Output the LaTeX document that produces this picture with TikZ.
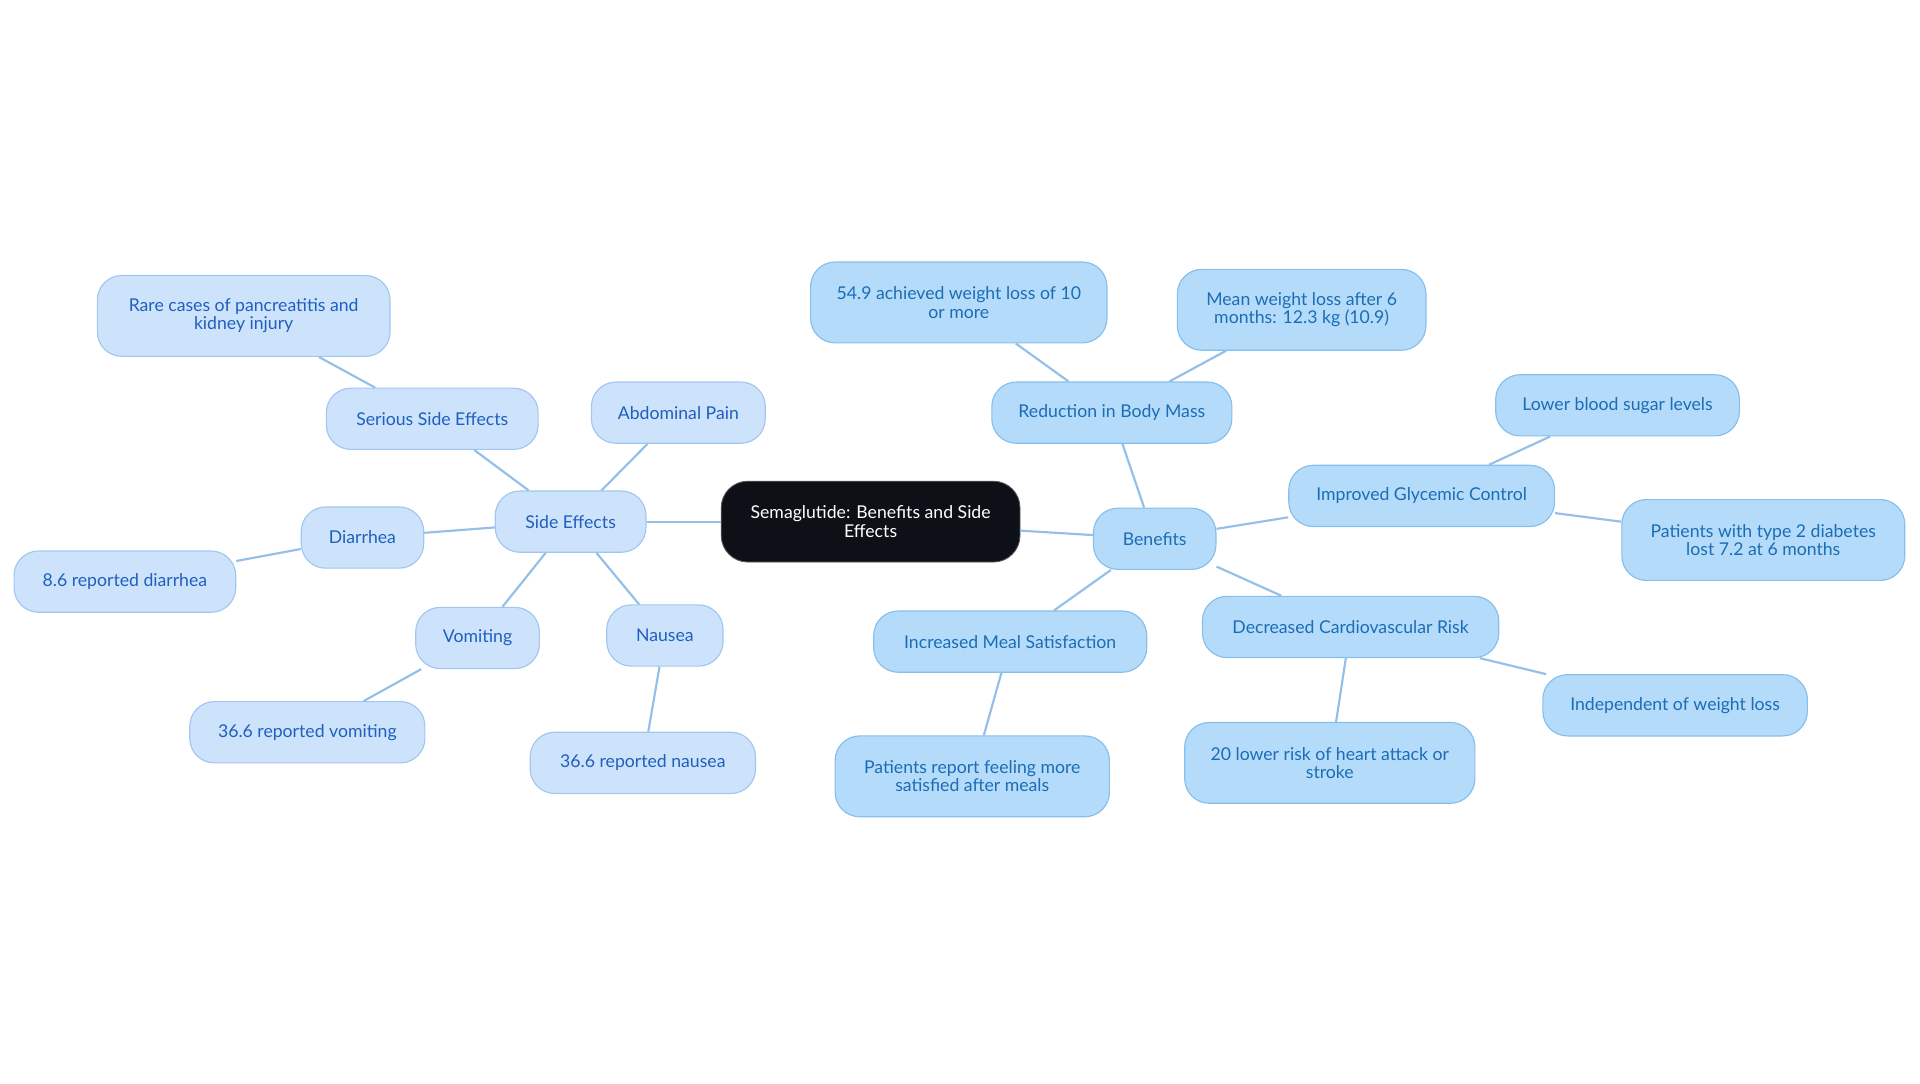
\documentclass[tikz,border=0pt]{standalone}
\usepackage{fontspec}
\setmainfont{Lato}
\definecolor{rootfill}{HTML}{0D1117}
\definecolor{sidefill}{HTML}{CDE3FB}
\definecolor{sidedraw}{HTML}{A3C6EF}
\definecolor{sidetext}{HTML}{1F5FBF}
\definecolor{benefill}{HTML}{B4DBFA}
\definecolor{benedraw}{HTML}{86BFEC}
\definecolor{benetext}{HTML}{1B6DB5}
\definecolor{linkcol}{HTML}{93BFE8}
\tikzset{
    % Le noeud central : le sujet de la carte
    root/.style={
        fill=rootfill,
        draw=gray!70!black,
        line width=0.6pt,
        text=white,
        rounded corners=0.65cm,
        align=center,
        minimum height=1.98cm,
        font=\fontsize{12.3}{12.8}\selectfont
    },
    % Les noeuds de la branche "effets secondaires"
    sidebox/.style={
        fill=sidefill,
        draw=sidedraw,
        line width=0.8pt,
        text=sidetext,
        rounded corners=0.6cm,
        align=center,
        minimum height=1.5cm,
        font=\fontsize{12.3}{12.8}\selectfont
    },
    % Les noeuds de la branche "benefices"
    benebox/.style={
        sidebox,
        fill=benefill,
        draw=benedraw,
        text=benetext
    },
    tall/.style={minimum height=1.98cm},
    % Les liens entre les noeuds
    link/.style={
        draw=linkcol,
        line width=1.5pt
    }
}

\begin{document}
\begin{tikzpicture}[x=0.03cm,y=-0.03cm]

    % Le cadre de la page (marges comprises)
    \useasboundingbox (0,0) rectangle (1568,884.5);

    % --- 1. Le noeud central ---
    \node[root, minimum width=7.32cm] (sema) at (711,426)
        {Semaglutide: Benefits and Side\\Effects};

    % --- 2. Branche gauche : les effets secondaires ---
    \node[sidebox, minimum width=3.69cm] (side) at (466,426) {Side Effects};
    \node[sidebox, minimum width=5.19cm] (serious) at (353,342) {Serious Side Effects};
    \node[sidebox, tall, minimum width=7.17cm] (rare) at (199,258)
        {Rare cases of pancreatitis and\\kidney injury};
    \node[sidebox, minimum width=4.26cm] (abdo) at (554,337) {Abdominal Pain};
    \node[sidebox, minimum width=3cm] (diarrhea) at (296,439) {Diarrhea};
    \node[sidebox, minimum width=5.43cm] (diarrheastat) at (102,475) {8.6 reported diarrhea};
    \node[sidebox, minimum width=3.03cm] (vomiting) at (390,521) {Vomiting};
    \node[sidebox, minimum width=5.76cm] (vomitingstat) at (251,598) {36.6 reported vomiting};
    \node[sidebox, minimum width=2.85cm] (nausea) at (543,519) {Nausea};
    \node[sidebox, minimum width=5.52cm] (nauseastat) at (525,623) {36.6 reported nausea};

    % --- 3. Branche droite : les benefices ---
    \node[benebox, minimum width=3cm] (bene) at (943,440) {Benefits};
    \node[benebox, minimum width=5.88cm] (mass) at (908,337) {Reduction in Body Mass};
    \node[benebox, tall, minimum width=7.26cm] (massten) at (783,247)
        {54.9 achieved weight loss of 10\\or more};
    \node[benebox, tall, minimum width=6.09cm] (massmean) at (1063,253)
        {Mean weight loss after 6\\months: 12.3 kg (10.9)};
    \node[benebox, minimum width=6.51cm] (glyc) at (1161,405) {Improved Glycemic Control};
    \node[benebox, minimum width=5.97cm] (sugar) at (1321,331) {Lower blood sugar levels};
    \node[benebox, tall, minimum width=6.93cm] (diab) at (1440,441)
        {Patients with type 2 diabetes\\lost 7.2 at 6 months};
    \node[benebox, minimum width=7.26cm] (cardio) at (1103,512) {Decreased Cardiovascular Risk};
    \node[benebox, minimum width=6.48cm] (indep) at (1368,576) {Independent of weight loss};
    \node[benebox, tall, minimum width=7.11cm] (heart) at (1086,623)
        {20 lower risk of heart attack or\\stroke};
    \node[benebox, minimum width=6.69cm] (meal) at (825,524) {Increased Meal Satisfaction};
    \node[benebox, tall, minimum width=6.72cm] (mealfeel) at (794,634)
        {Patients report feeling more\\satisfied after meals};

    % --- 4. Les liens (coupes au bord des noeuds) ---
    \foreach \a/\b in {sema/side, side/serious, serious/rare, side/abdo,
                       side/diarrhea, diarrhea/diarrheastat, side/vomiting,
                       vomiting/vomitingstat, side/nausea, nausea/nauseastat,
                       sema/bene, bene/mass, mass/massten, mass/massmean,
                       bene/glyc, glyc/sugar, glyc/diab, bene/cardio,
                       cardio/indep, cardio/heart, bene/meal, meal/mealfeel}
        \draw[link] (\a) -- (\b);

\end{tikzpicture}
\end{document}
